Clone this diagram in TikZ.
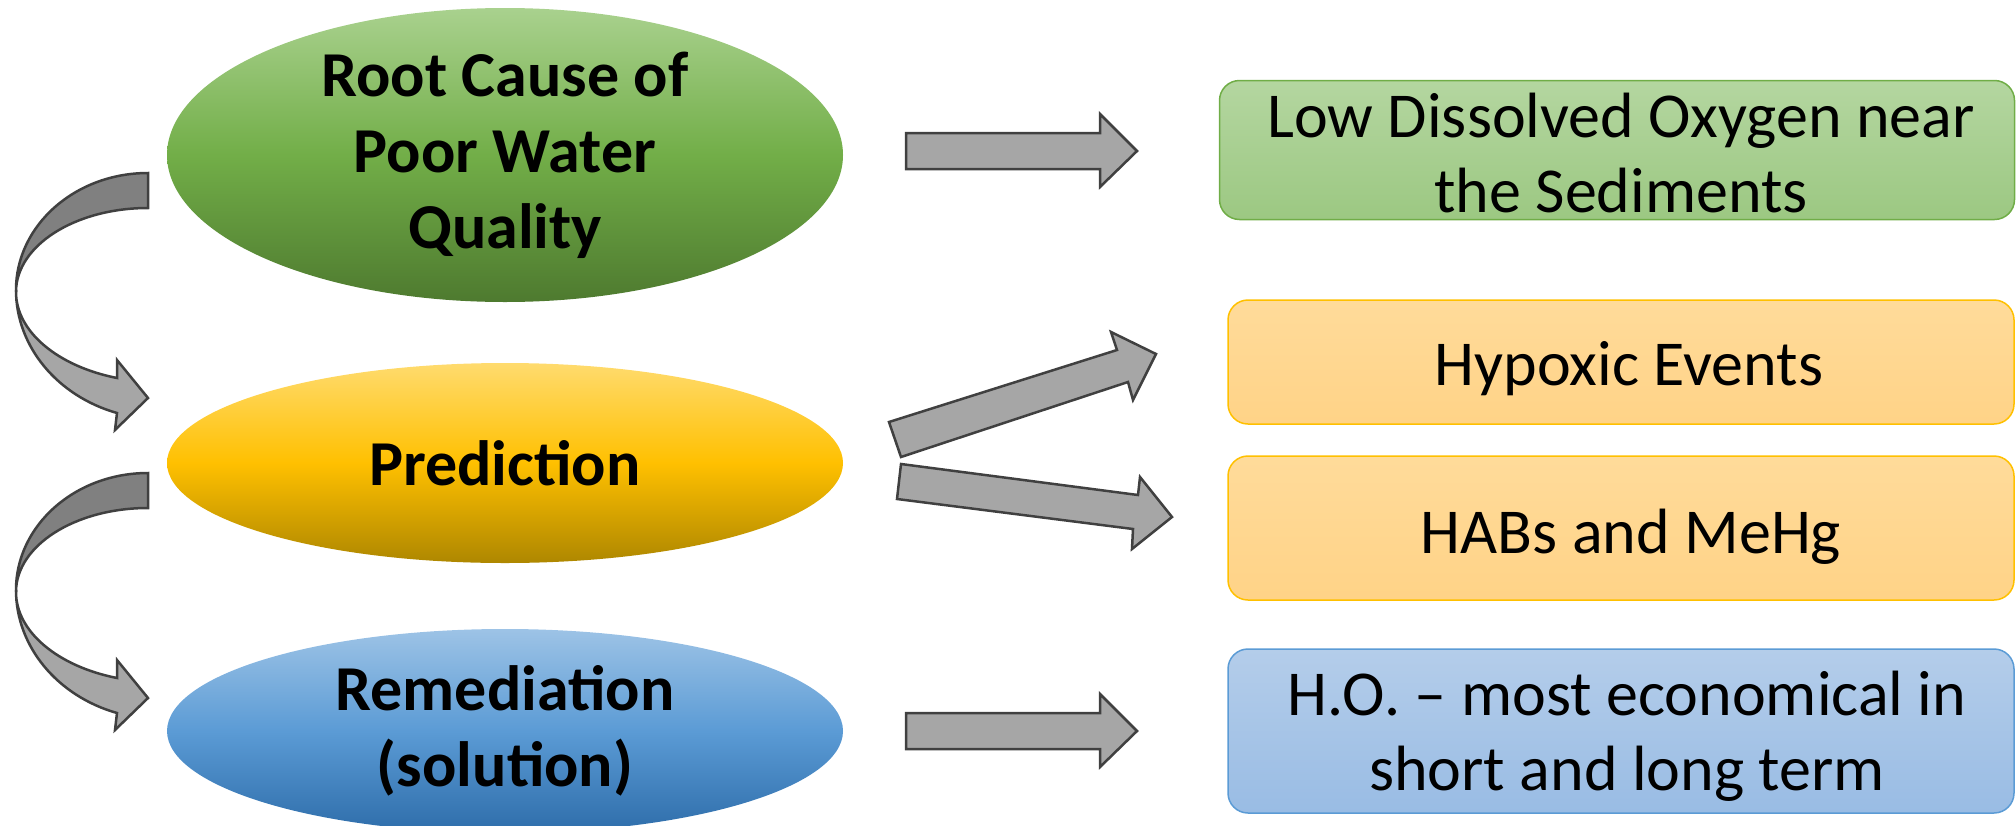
\documentclass[tikz,border=0pt]{standalone}
\usepackage{fontspec}
\setmainfont{Carlito}
\usetikzlibrary{shapes.geometric}
\definecolor{arrowfill}{HTML}{A6A6A6}
\definecolor{arrowdark}{HTML}{808080}
\definecolor{arrowline}{HTML}{404040}
\definecolor{gTop}{HTML}{A9D18E}
\definecolor{gMid}{HTML}{72AE48}
\definecolor{gBot}{HTML}{4E7A2F}
\definecolor{yTop}{HTML}{FFDB6E}
\definecolor{yMid}{HTML}{FFC000}
\definecolor{yBot}{HTML}{AE8700}
\definecolor{bTop}{HTML}{9DC3E6}
\definecolor{bMid}{HTML}{5B9BD5}
\definecolor{bBot}{HTML}{2E6DAA}
\definecolor{gbxTop}{HTML}{B4D6A0}
\definecolor{gbxBot}{HTML}{9CC882}
\definecolor{gbxLine}{HTML}{70AD47}
\definecolor{ybxTop}{HTML}{FFDB9A}
\definecolor{ybxBot}{HTML}{FFD387}
\definecolor{ybxLine}{HTML}{FFC000}
\definecolor{bbxTop}{HTML}{B4CDEA}
\definecolor{bbxBot}{HTML}{99BCE4}
\definecolor{bbxLine}{HTML}{5B9BD5}
\begin{document}
\begin{tikzpicture}[x=1pt,y=-1pt,
  ell/.style={ellipse, inner sep=0pt, minimum width=676pt, align=center,
    font=\fontsize{64}{76}\selectfont\bfseries},
  bx/.style={rounded corners=20pt, inner sep=0pt, line width=1.5pt},
  bxtext/.style={inner sep=0pt, align=center, font=\fontsize{64}{75}\selectfont},
  barrow/.style={fill=arrowfill, draw=arrowline, line width=2.5pt, line join=miter},
  banddark/.style={fill=arrowdark, draw=arrowline, line width=2.5pt, line join=miter}]
\useasboundingbox (0,0) rectangle (2016,825);
\clip (0,0) rectangle (2016,825);

% ellipses
\node[ell, minimum height=294pt, top color=gTop, bottom color=gBot, middle color=gMid]
  (root) at (505,155) {Root Cause of\\Poor Water\\Quality};
\node[ell, minimum height=200pt, top color=yTop, bottom color=yBot, middle color=yMid]
  (pred) at (505,463) {Prediction};
\node[ell, minimum height=204pt, top color=bTop, bottom color=bBot, middle color=bMid]
  (rem) at (505,731) {Remediation\\(solution)};

% boxes
\node[bx, draw=gbxLine, top color=gbxTop, bottom color=gbxBot,
  minimum width=795pt, minimum height=139pt,
  label={[bxtext, xshift=4pt, yshift=-3pt]center:{Low Dissolved Oxygen near\\the Sediments}}]
  (low) at (1617,150) {};
\node[bx, draw=ybxLine, top color=ybxTop, bottom color=ybxBot,
  minimum width=786pt, minimum height=124pt,
  label={[bxtext, xshift=8pt, yshift=-7pt]center:{Hypoxic Events}}]
  (hyp) at (1621,362) {};
\node[bx, draw=ybxLine, top color=ybxTop, bottom color=ybxBot,
  minimum width=786pt, minimum height=144pt,
  label={[bxtext, xshift=10pt, yshift=-9pt]center:{HABs and MeHg}}]
  (habs) at (1621,528) {};
\node[bx, draw=bbxLine, top color=bbxTop, bottom color=bbxBot,
  minimum width=786pt, minimum height=164pt,
  label={[bxtext, xshift=6pt, yshift=-5pt]center:{H.O. – most economical in\\short and long term}}]
  (ho) at (1621,731) {};

% straight block arrows
\draw[barrow] (906,133) -- (1100,133) -- (1100,114) -- (1137,151) -- (1100,187)
  -- (1100,169) -- (906,169) -- cycle;
\draw[barrow] (906,713) -- (1100,713) -- (1100,694) -- (1137,731) -- (1100,767)
  -- (1100,749) -- (906,749) -- cycle;

% diagonal block arrows
\draw[barrow] (889,422) -- (1117,350) -- (1111,332) -- (1156,354) -- (1133,400)
  -- (1128,382) -- (901,457) -- cycle;
\draw[barrow] (901,464) -- (1138,495) -- (1140,477) -- (1172,517) -- (1132,549)
  -- (1133,529) -- (897,499) -- cycle;

% curved arrows
\foreach \dy in {0,300}{
\begin{scope}[shift={(0,\dy)}]
\draw[barrow] (16,290) .. controls (16,346.8) and (57.8,396.2) .. (117,413)
  -- (115,430) -- (148,398) -- (117,360) -- (117,378)
  .. controls (57.8,366.3) and (16,331.7) .. (16,292) -- cycle;
\draw[banddark] (148,173) .. controls (75.1,173) and (16,225.4) .. (16,290)
  -- (16,292) .. controls (16,245.6) and (75.1,208) .. (148,208) -- cycle;
\end{scope}}
\end{tikzpicture}
\end{document}
